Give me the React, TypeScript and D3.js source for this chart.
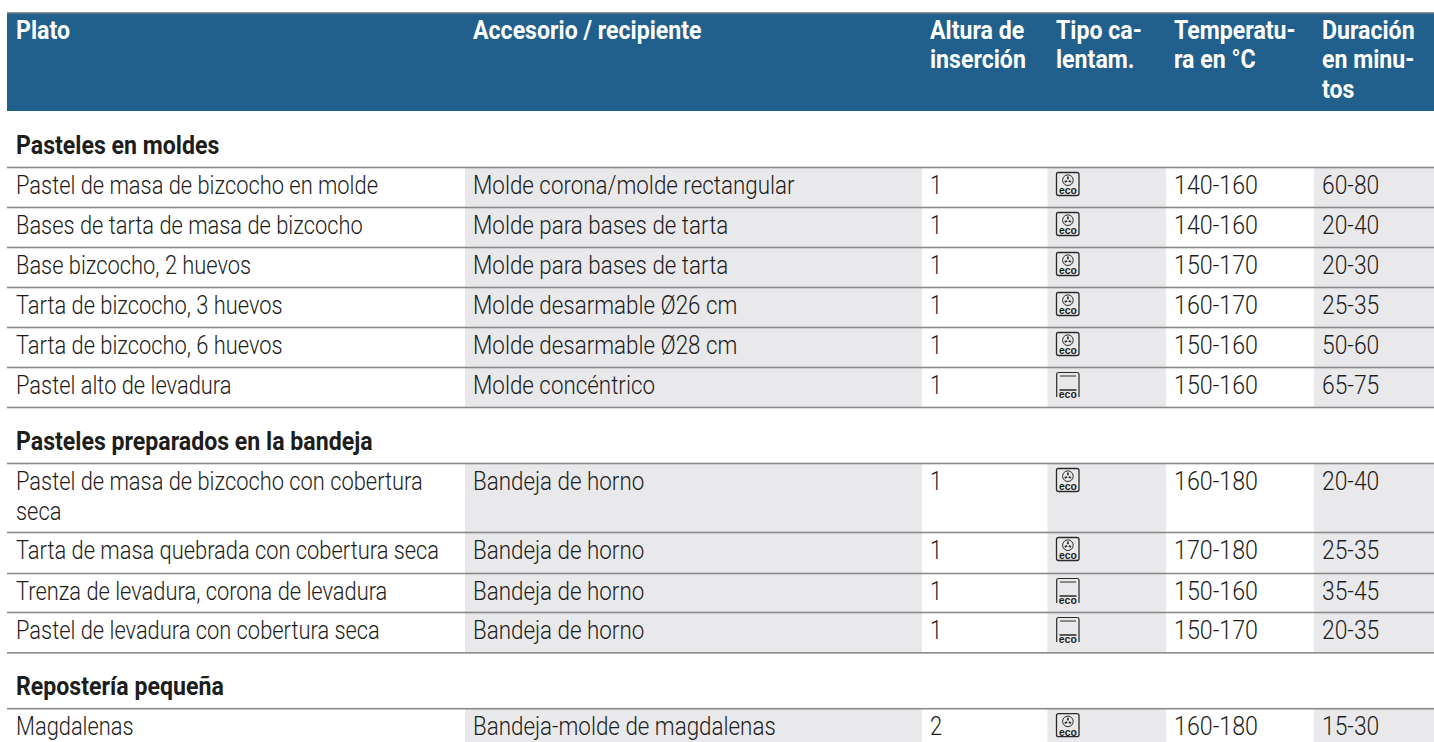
import React from "react";
import * as d3 from "d3";

const WIDTH = 1434, HEIGHT = 742;
const columnKeys = ["plato", "accesorio", "altura", "tipo", "temp", "dur"];
const columnTextX = [16, 473, 930, 1056, 1174, 1322];
const columnEdges = [7, 465, 922, 1047.5, 1166, 1314, 1434];
const shadedColumns = ["accesorio", "tipo", "dur"];
const headerLabels = [
  ["Plato"],
  ["Accesorio / recipiente"],
  ["Altura de", "inserción"],
  ["Tipo ca-", "lentam."],
  ["Temperatu-", "ra en °C"],
  ["Duración", "en minu-", "tos"],
];
const sectionTitles = ["Pasteles en moldes", "Pasteles preparados en la bandeja", "Repostería pequeña"];
const sectionBaselines = [154, 450, 695];
const rowLines = [
  [167.5, 207.5, 247.5, 287.5, 327.5, 367.5, 407.5],
  [463.5, 532.5, 573.5, 612.5, 652.8],
  [708.7, 742],
];
const dishes = [
  [["Pastel de masa de bizcocho en molde"], ["Bases de tarta de masa de bizcocho"], ["Base bizcocho, 2 huevos"], ["Tarta de bizcocho, 3 huevos"], ["Tarta de bizcocho, 6 huevos"], ["Pastel alto de levadura"]],
  [["Pastel de masa de bizcocho con cobertura", "seca"], ["Tarta de masa quebrada con cobertura seca"], ["Trenza de levadura, corona de levadura"], ["Pastel de levadura con cobertura seca"]],
  [["Magdalenas"]],
];
const accessories = [
  ["Molde corona/molde rectangular", "Molde para bases de tarta", "Molde para bases de tarta", "Molde desarmable Ø26 cm", "Molde desarmable Ø28 cm", "Molde concéntrico"],
  ["Bandeja de horno", "Bandeja de horno", "Bandeja de horno", "Bandeja de horno"],
  ["Bandeja-molde de magdalenas"],
];
const heights = [["1", "1", "1", "1", "1", "1"], ["1", "1", "1", "1"], ["2"]];
const heating = [["fan", "fan", "fan", "fan", "fan", "oven"], ["fan", "fan", "oven", "oven"], ["fan"]];
const temps = [
  ["140-160", "140-160", "150-170", "160-170", "150-160", "150-160"],
  ["160-180", "170-180", "150-160", "150-170"],
  ["160-180"],
];
const durations = [
  ["60-80", "20-40", "20-30", "25-35", "50-60", "65-75"],
  ["20-40", "25-35", "35-45", "20-35"],
  ["15-30"],
];

const BLUE = "#215f8c", GREY = "#e9e9eb", RULE = "#8a8a8a", INK = "#1d1d1b";
const FONT = "Roboto, 'Liberation Sans', sans-serif";

const colStart = d3.scaleOrdinal<string, number>().domain(columnKeys).range(columnEdges.slice(0, 6));
const colEnd = d3.scaleOrdinal<string, number>().domain(columnKeys).range(columnEdges.slice(1));
const colText = d3.scaleOrdinal<string, number>().domain(columnKeys).range(columnTextX);

function Label({ x, y, text, bold, sx, fill = INK }: any) {
  return (
    <text
      transform={`translate(${x},${y}) scale(${sx ?? (bold ? 0.925 : 0.875)},1)`}
      fontFamily={FONT}
      fontSize={25}
      fontWeight={bold ? 700 : 300}
      fill={fill}
    >
      {text}
    </text>
  );
}

function Eco({ x, y }: any) {
  return (
    <text x={x} y={y} textAnchor="middle" fontFamily="'Liberation Sans', sans-serif" fontWeight={700} fontSize={11} fill="#222" textLength={18} lengthAdjust="spacingAndGlyphs">
      eco
    </text>
  );
}

function FanIcon({ x, top }: any) {
  const cx = x + 11.9, cy = top + 8.2;
  const blades = d3.range(3).map((i) => (i * 2 * Math.PI) / 3 - Math.PI / 2);
  return (
    <g>
      <rect x={x + 0.5} y={top + 0.5} width={22.5} height={23} rx={2} fill="none" stroke="#2a2a2a" strokeWidth={1.3} />
      <circle cx={cx} cy={cy} r={5.3} fill="none" stroke="#2a2a2a" strokeWidth={1} />
      {blades.map((a, i) => (
        <line key={i} x1={cx + Math.cos(a) * 1} y1={cy + Math.sin(a) * 1} x2={cx + Math.cos(a) * 3.6} y2={cy + Math.sin(a) * 3.6} stroke="#2a2a2a" strokeWidth={1.7} />
      ))}
      <Eco x={cx} y={top + 22.4} />
    </g>
  );
}

function OvenIcon({ x, top }: any) {
  const left = x + 0.7, right = x + 23;
  return (
    <g>
      <path d={`M${left},${top + 25} V${top + 2} Q${left},${top + 0.5} ${left + 2},${top + 0.5} H${right - 2} Q${right},${top + 0.5} ${right},${top + 2} V${top + 25}`} fill="none" stroke="#2a2a2a" strokeWidth={1.2} />
      <line x1={x + 4} x2={x + 20} y1={top + 4} y2={top + 4} stroke="#2a2a2a" strokeWidth={1} />
      <line x1={x + 3.5} x2={x + 20.5} y1={top + 18} y2={top + 18} stroke="#333" strokeWidth={1.6} />
      <Eco x={x + 11.8} y={top + 26} />
    </g>
  );
}

export default function App() {
  return (
    <svg width={WIDTH} height={HEIGHT} style={{ position: "fixed", left: 0, top: 0, background: "#fff" }}>
      {/* header */}
      <rect x={7} y={13} width={WIDTH - 7} height={98} fill={BLUE} />
      <rect x={7} y={12} width={WIDTH - 7} height={1.6} fill={RULE} />
      {headerLabels.map((lines, c) =>
        lines.map((t, l) => (
          <Label key={`${c}-${l}`} x={colText(columnKeys[c])} y={39 + l * 29.3} text={t} bold fill="#fff" />
        ))
      )}
      {/* sections */}
      {sectionTitles.map((title, s) => {
        const lines = rowLines[s];
        const top = lines[0], bottom = lines[lines.length - 1];
        return (
          <g key={title}>
            <Label x={colText("plato")} y={sectionBaselines[s]} text={title} bold />
            {shadedColumns.map((k) => (
              <rect key={k} x={colStart(k)} y={top} width={colEnd(k) - colStart(k)} height={bottom - top} fill={GREY} />
            ))}
            {lines.map((y, i) =>
              y < HEIGHT ? <rect key={i} x={7} y={y - 0.8} width={WIDTH - 7} height={1.6} fill={RULE} /> : null
            )}
            {dishes[s].map((textLines, r) => {
              const base = lines[r] + 26.3;
              return (
                <g key={r}>
                  {textLines.map((t, l) => (
                    <Label key={l} x={colText("plato")} y={base + l * 29.7} text={t} />
                  ))}
                  <Label x={colText("accesorio")} y={base} text={accessories[s][r]} sx={0.895} />
                  <Label x={colText("altura")} y={base} text={heights[s][r]} />
                  {heating[s][r] === "fan" ? (
                    <FanIcon x={colText("tipo")} top={lines[r] + 4.5} />
                  ) : (
                    <OvenIcon x={colText("tipo")} top={lines[r] + 4.5} />
                  )}
                  <Label x={colText("temp")} y={base} text={temps[s][r]} sx={0.93} />
                  <Label x={colText("dur")} y={base} text={durations[s][r]} sx={0.915} />
                </g>
              );
            })}
          </g>
        );
      })}
    </svg>
  );
}
